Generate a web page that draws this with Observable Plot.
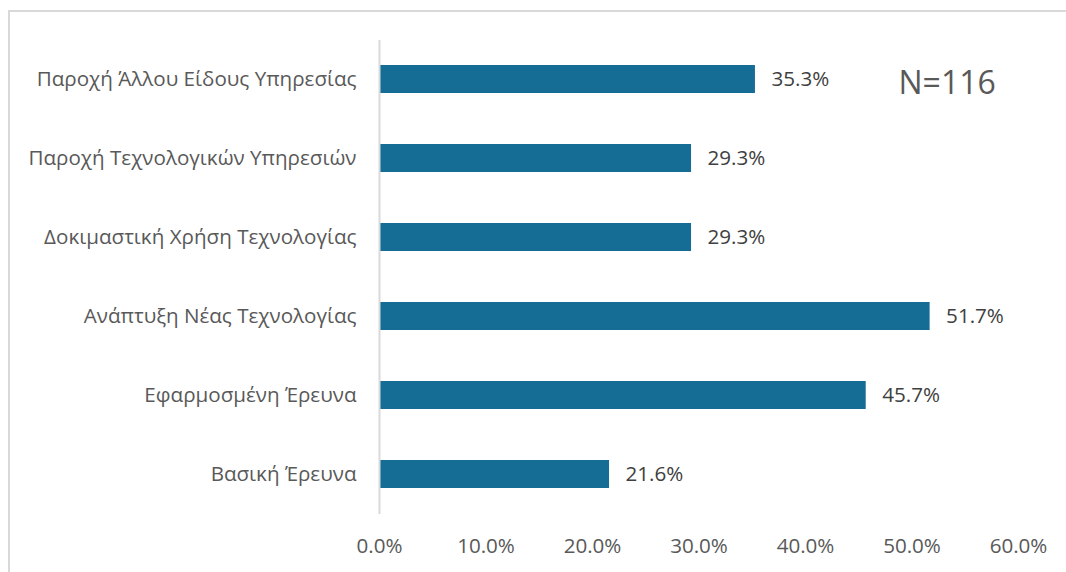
<!DOCTYPE html>
<html>
<head>
<meta charset="utf-8">
<script src="https://cdn.jsdelivr.net/npm/d3@7"></script>
<script src="https://cdn.jsdelivr.net/npm/@observablehq/plot@0.6"></script>
<style>
  html, body { margin: 0; padding: 0; background: #fff; }
  #wrap { position: relative; width: 1066px; height: 572px; overflow: hidden; }
  #frame { position: absolute; left: 8px; top: 10px; width: 1100px; height: 600px; border: 2px solid #d9d9d9; box-sizing: border-box; }
  #chart { position: absolute; left: 0; top: 0; }
</style>
</head>
<body>
<div id="wrap"><div id="frame"></div><div id="chart"></div></div>
<script>
const categories = [
  "Παροχή Άλλου Είδους Υπηρεσίας",
  "Παροχή Τεχνολογικών Υπηρεσιών",
  "Δοκιμαστική Χρήση Τεχνολογίας",
  "Ανάπτυξη Νέας Τεχνολογίας",
  "Εφαρμοσμένη Έρευνα",
  "Βασική Έρευνα"
];
const values = [35.3, 29.3, 29.3, 51.7, 45.7, 21.6];
const xTicks = [0, 10, 20, 30, 40, 50, 60];
const annotation = "N=116";

const data = categories.map((c, i) => ({category: c, value: values[i]}));
const font = "'Open Sans', sans-serif";

const chart = Plot.plot({
  width: 1066,
  height: 572,
  marginLeft: 379,
  marginRight: 48,
  marginTop: 40,
  marginBottom: 58,
  style: {fontFamily: font, fontSize: "20.6px", color: "#595959", background: "transparent"},
  x: {domain: [0, 60], ticks: xTicks, tickFormat: d => d.toFixed(1) + "%", tickSize: 0, tickPadding: 24, label: null},
  y: {domain: categories, paddingInner: 0.645, paddingOuter: 0.3225, tickSize: 0, tickPadding: 23, label: null},
  marks: [
    Plot.barX(data, {x: "value", y: "category", fill: "#156c94"}),
    Plot.ruleX([0], {stroke: "#d9d9d9", strokeWidth: 2}),
    Plot.text(data, {x: "value", y: "category", text: d => d.value.toFixed(1) + "%", textAnchor: "start", dx: 16, fill: "#404040", fontSize: 20.6}),
    Plot.text([{x: 53.3, y: categories[0], t: annotation}], {x: "x", y: "y", text: "t", fill: "#595959", fontSize: 32, dy: 4})
  ]
});
document.getElementById("chart").appendChild(chart);
</script>
</body>
</html>
